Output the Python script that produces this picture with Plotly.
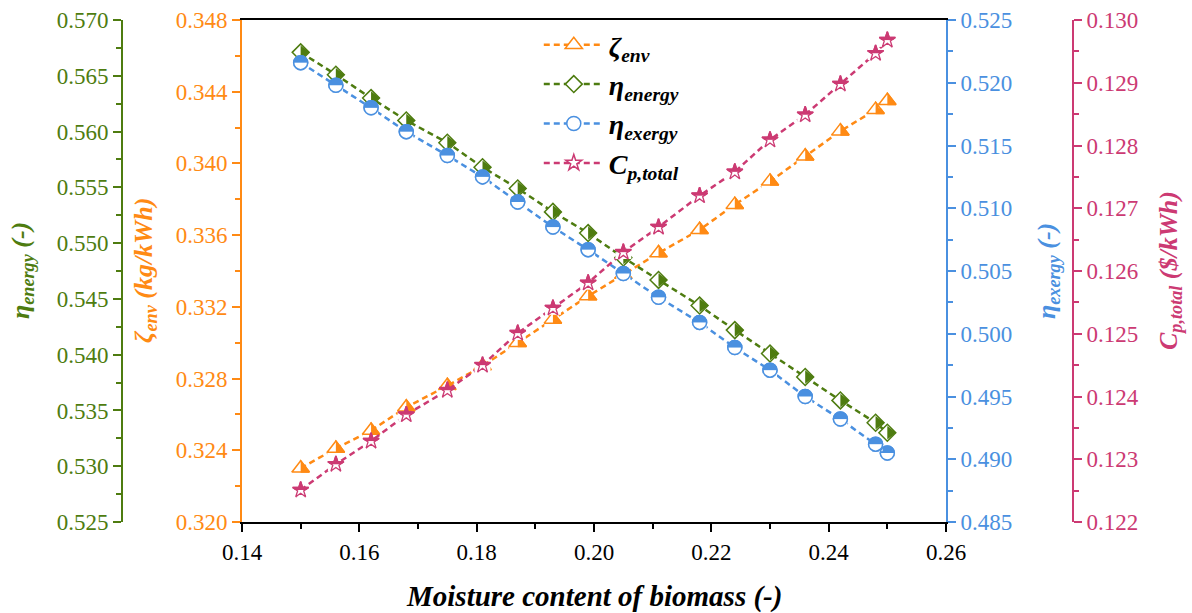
import plotly.graph_objects as go

# ---- data -------------------------------------------------------------
moisture = [0.150, 0.156, 0.162, 0.168, 0.175, 0.181, 0.187, 0.193, 0.199,
            0.205, 0.211, 0.218, 0.224, 0.230, 0.236, 0.242, 0.248, 0.250]
zeta_env = [0.3230, 0.3241, 0.3251, 0.3264, 0.3276, 0.3287, 0.3300, 0.3313, 0.3326,
            0.3338, 0.3350, 0.3363, 0.3377, 0.3390, 0.3404, 0.3418, 0.3430, 0.3435]
eta_energy = [0.5671, 0.5651, 0.5630, 0.5610, 0.5590, 0.5568, 0.5549, 0.5528, 0.5509,
              0.5487, 0.5467, 0.5444, 0.5422, 0.5401, 0.5380, 0.5359, 0.5339, 0.5330]
eta_exergy = [0.5216, 0.5198, 0.5180, 0.5161, 0.5142, 0.5125, 0.5105, 0.5085, 0.5067,
              0.5048, 0.5029, 0.5009, 0.4989, 0.4971, 0.4950, 0.4932, 0.4912, 0.4905]
cp_total = [0.12251, 0.12292, 0.12329, 0.12371, 0.12410, 0.12450, 0.12501, 0.12541, 0.12581,
            0.12630, 0.12670, 0.12720, 0.12758, 0.12809, 0.12849, 0.12898, 0.12947, 0.12968]

GREEN = "#4E7C10"
ORANGE = "#FF8A14"
BLUE = "#4A90E0"
PINK = "#CC3A73"
FONT = "Times New Roman, Liberation Serif, DejaVu Serif, serif"
DASH = "6px,4px"

fig = go.Figure()


def base_trace(y, yaxis, color, name, symbol, size, fill="white"):
    fig.add_trace(go.Scatter(
        x=moisture, y=y, yaxis=yaxis, name=name, mode="lines+markers",
        line=dict(color=color, width=2.5, dash=DASH),
        marker=dict(symbol=symbol, size=size, color=fill,
                    line=dict(color=color, width=1.5)),
    ))


def marker_trace(y, yaxis, symbol, size, color, angle=0, standoff=0, lw=0, lc=None):
    # plotly shifts a marker by `standoff` px opposite to its `angle`
    fig.add_trace(go.Scatter(
        x=moisture, y=y, yaxis=yaxis, mode="markers", showlegend=False,
        hoverinfo="skip",
        marker=dict(symbol=symbol, size=size, color=color, angle=angle,
                    standoff=standoff,
                    line=dict(width=lw, color=lc if lc else color)),
    ))


# zeta_env : triangle, right half filled (fill, mask left half, outline)
base_trace(zeta_env, "y", ORANGE, "<b><i>ζ<sub>env</sub></i></b>", "triangle-up", 15)
marker_trace(zeta_env, "y", "triangle-up", 15, ORANGE)
marker_trace(zeta_env, "y", "line-ew", 10.7, "white", angle=90, standoff=4.3, lw=8.6, lc="white")
marker_trace(zeta_env, "y", "triangle-up-open", 15, ORANGE, lw=1.5)

# eta_energy : diamond, right half filled
base_trace(eta_energy, "y2", GREEN, "<b><i>η<sub>energy</sub></i></b>", "diamond", 13)
marker_trace(eta_energy, "y2", "triangle-down", 11.7, GREEN, angle=270, standoff=2.9)

# eta_exergy : circle, top half filled
base_trace(eta_exergy, "y3", BLUE, "<b><i>η<sub>exergy</sub></i></b>", "circle", 14)
marker_trace(eta_exergy, "y3", "circle", 14, BLUE)
marker_trace(eta_exergy, "y3", "line-ew", 10, "white", angle=0, standoff=3.5, lw=7, lc="white")
marker_trace(eta_exergy, "y3", "circle-open", 14, BLUE, lw=1.5)

# Cp,total : star, top half filled
base_trace(cp_total, "y4", PINK, "<b><i>C<sub>p,total</sub></i></b>", "star", 12)
marker_trace(cp_total, "y4", "star", 12, PINK)
marker_trace(cp_total, "y4", "line-ew", 11.4, "white", angle=0, standoff=3.4, lw=6.8, lc="white")
marker_trace(cp_total, "y4", "star-open", 12, PINK, lw=1.3)


def yax(color, rng, dtick, minor, **kw):
    d = dict(
        range=rng, dtick=dtick, tick0=rng[0], tickformat=".3f",
        showline=True, linecolor=color, linewidth=2,
        ticks="outside", ticklen=8, tickwidth=2, tickcolor=color,
        minor=dict(dtick=minor, ticks="outside", ticklen=5, tickwidth=1.5, tickcolor=color),
        tickfont=dict(family=FONT, size=23, color=color),
        showgrid=False, zeroline=False, automargin=False,
    )
    d.update(kw)
    return d


fig.update_layout(
    width=1192, height=613,
    margin=dict(l=0, r=0, t=20, b=91, autoexpand=False),
    paper_bgcolor="white", plot_bgcolor="white",
    font=dict(family=FONT),
    xaxis=dict(
        domain=[242 / 1192, 946 / 1192], range=[0.14, 0.26], dtick=0.02, tick0=0.14,
        tickformat=".2f", showline=True, linecolor="black", linewidth=2, mirror=True,
        ticks="outside", ticklen=8, tickwidth=2, tickcolor="black",
        minor=dict(dtick=0.01, ticks="outside", ticklen=5, tickwidth=1.5, tickcolor="black"),
        tickfont=dict(family=FONT, size=23, color="black"),
        showgrid=False, zeroline=False, automargin=False,
    ),
    yaxis=yax(ORANGE, [0.320, 0.348], 0.004, 0.002, side="left", anchor="x"),
    yaxis2=yax(GREEN, [0.525, 0.570], 0.005, 0.0025, side="left", anchor="free",
               overlaying="y", position=122 / 1192),
    yaxis3=yax(BLUE, [0.485, 0.525], 0.005, 0.0025, side="right", anchor="x",
               overlaying="y"),
    yaxis4=yax(PINK, [0.122, 0.130], 0.001, 0.0005, side="right", anchor="free",
               overlaying="y", position=1073 / 1192),
    legend=dict(x=0.452, y=1.0, xanchor="left", yanchor="top",
                bgcolor="rgba(0,0,0,0)", itemwidth=60,
                font=dict(family=FONT, size=28, color="black")),
    showlegend=True,
)

titles = [
    ("<b><i>η<sub>energy</sub> (-)</i></b>", GREEN, 22 / 1192),
    ("<b><i>ζ<sub>env</sub> (kg/kWh)</i></b>", ORANGE, 145 / 1192),
    ("<b><i>η<sub>exergy</sub> (-)</i></b>", BLUE, 1048 / 1192),
    ("<b><i>C<sub>p,total</sub> ($/kWh)</i></b>", PINK, 1170 / 1192),
]
for text, color, xpos in titles:
    fig.add_annotation(text=text, x=xpos, y=0.5, xref="paper", yref="paper",
                       xanchor="center", yanchor="middle", textangle=-90,
                       showarrow=False, font=dict(family=FONT, size=26, color=color))

fig.add_annotation(text="<b><i>Moisture content of biomass (-)</i></b>",
                   x=594 / 1192, y=-0.149, xref="paper", yref="paper",
                   xanchor="center", yanchor="middle", showarrow=False,
                   font=dict(family=FONT, size=29, color="black"))

fig.write_html("out.html")
